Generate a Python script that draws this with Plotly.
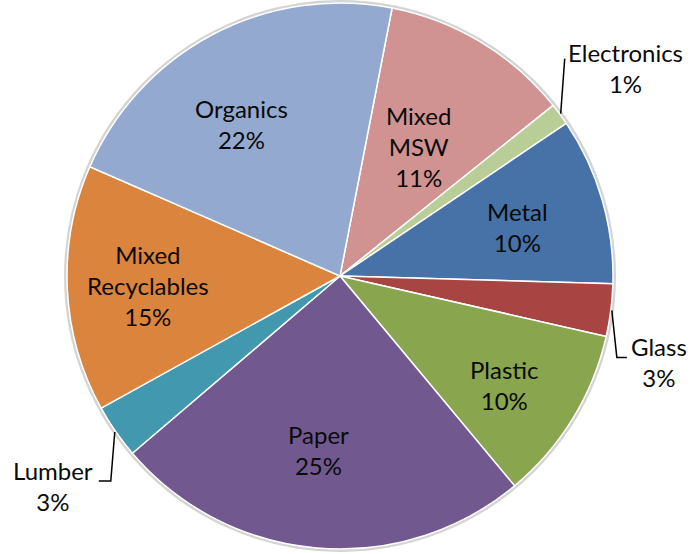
import math
import plotly.graph_objects as go

labels = ["Mixed<br>MSW", "Electronics", "Metal", "Glass", "Plastic", "Paper",
          "Lumber", "Mixed<br>Recyclables", "Organics"]
values = [11.2, 1.3, 9.9, 3.1, 10.4, 24.8, 3.2, 14.6, 21.5]
colors = ["#D09391", "#B9CE96", "#4672A8", "#A84442", "#89A54E", "#71588F",
          "#4198AF", "#DB843D", "#93A9CF"]
rotation = 11

# label placement styles: (radius fraction, angle offset deg) for inside labels
inside_pos = {"Mixed<br>MSW": (0.554, 0.3), "Metal": (0.676, 0.8), "Plastic": (0.724, 2.0),
              "Paper": (0.642, 2.3), "Mixed<br>Recyclables": (0.704, -0.3),
              "Organics": (0.664, -5.4)}
# outside labels: leader-line offsets and label offset (pixels from slice edge)
outside_pos = {
    "Electronics": ([(4, -55)], (65, -46)),
    "Glass": ([(5, 47), (15, 47)], (47, 52)),
    "Lumber": ([(-4, 49), (-16, 49)], (-62, 54)),
}

W, H = 691, 554
cx, cy, R = 340, 276, 273
FONT = dict(family="Lato", size=24, color="#0a0a0a")

fig = go.Figure(go.Pie(
    labels=labels, values=values, textinfo="none",
    sort=False, direction="clockwise", rotation=rotation,
    marker=dict(colors=colors, line=dict(color="white", width=1.5)),
    domain=dict(x=[(cx - R) / W, (cx + R) / W], y=[(H - cy - R) / H, (H - cy + R) / H]),
    showlegend=False, hoverinfo="skip",
))

total = sum(values)
cum = 0
mid = {}
for lab, v in zip(labels, values):
    mid[lab] = rotation + (cum + v / 2) / total * 360
    cum += v

def polar(a, r):
    rad = math.radians(a)
    return cx + r * math.sin(rad), cy - r * math.cos(rad)

shapes = []
annotations = []

# soft shadow ring around the pie
shapes.append(dict(type="circle", xref="paper", yref="paper", layer="below",
                   x0=(cx - R - 1.5) / W, x1=(cx + R + 1.5) / W,
                   y0=(H - cy - R - 1.5) / H, y1=(H - cy + R + 1.5) / H,
                   line=dict(color="#d4d4d4", width=3), fillcolor="rgba(0,0,0,0)"))

def add_label(text, x, y):
    annotations.append(dict(x=x / W, y=1 - y / H, xref="paper", yref="paper",
                            xanchor="center", yanchor="middle", align="center",
                            text=text, showarrow=False, font=FONT))

for lab, v in zip(labels, values):
    pct = f"{round(v / total * 100)}%"
    if lab in inside_pos:
        rf, da = inside_pos[lab]
        x, y = polar(mid[lab] + da, rf * R)
        add_label(f"{lab}<br>{pct}", x, y)
    else:
        segs, (lx, ly) = outside_pos[lab]
        ex, ey = polar(mid[lab], R + 1)
        pts = [(ex, ey)] + [(ex + dx, ey + dy) for dx, dy in segs]
        path = "M " + " L ".join(f"{x / W},{1 - y / H}" for x, y in pts)
        shapes.append(dict(type="path", xref="paper", yref="paper", path=path,
                           line=dict(color="black", width=1.5)))
        add_label(f"{lab}<br>{pct}", ex + lx, ey + ly)

fig.update_layout(width=W, height=H, margin=dict(l=0, r=0, t=0, b=0),
                  paper_bgcolor="white", plot_bgcolor="white",
                  shapes=shapes, annotations=annotations)
fig.write_html("out.html")
